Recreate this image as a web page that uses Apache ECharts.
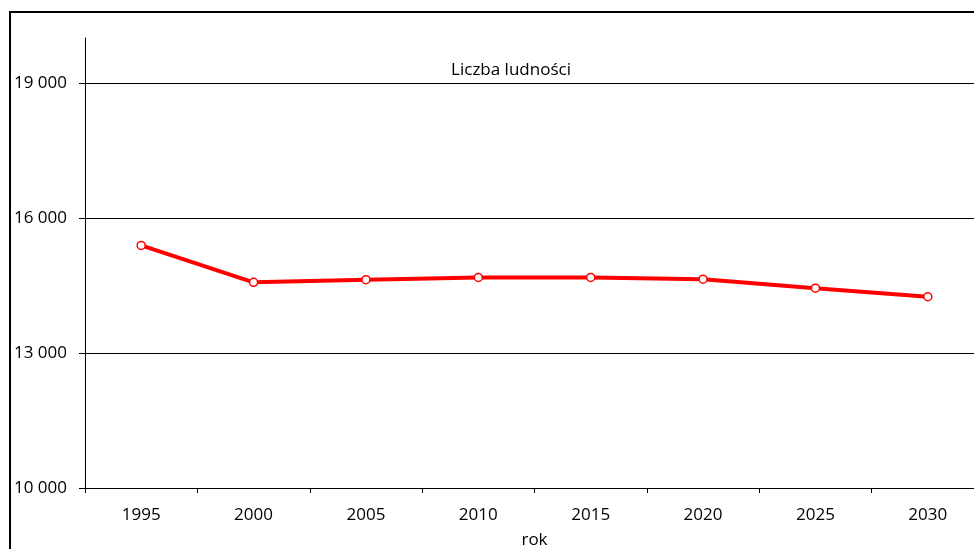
<!DOCTYPE html>
<html>
<head>
<meta charset="utf-8">
<script src="https://cdn.jsdelivr.net/npm/echarts@6/dist/echarts.min.js"></script>
<style>
  html, body { margin: 0; padding: 0; background: #fff; }
  #chart { width: 974px; height: 549px; }
</style>
</head>
<body>
<div id="chart"></div>
<script>
// Population by year, with projections to 2030
const years = ['1995', '2000', '2005', '2010', '2015', '2020', '2025', '2030'];
const population = [15390, 14570, 14630, 14680, 14680, 14640, 14440, 14250];
const chartTitle = 'Liczba ludności';
const xAxisName = 'rok';

const FONT = '"Open Sans", "Noto Sans", sans-serif';
const FONT_SIZE = 17;

const chart = echarts.init(document.getElementById('chart'), null, { renderer: 'canvas' });

chart.setOption({
  backgroundColor: '#ffffff',
  animation: false,
  graphic: [
    {
      // outer chart frame
      type: 'rect',
      shape: { x: 10, y: 12, width: 1000, height: 600 },
      style: { fill: 'none', stroke: '#000', lineWidth: 2 },
      silent: true,
      z: 0
    },
    {
      type: 'text',
      x: 511,
      y: 70,
      style: {
        text: chartTitle, fontFamily: FONT, fontSize: FONT_SIZE, fill: '#000',
        align: 'center', verticalAlign: 'middle'
      },
      z: 10
    }
  ],
  grid: { left: 85, top: 38, right: -10, bottom: 61, outerBoundsMode: 'none', containLabel: false },
  xAxis: {
    type: 'category',
    data: years,
    boundaryGap: true,
    name: xAxisName,
    nameLocation: 'middle',
    nameGap: 44,
    nameTextStyle: { fontFamily: FONT, fontSize: FONT_SIZE, color: '#000' },
    axisLine: { show: true, lineStyle: { color: '#000', width: 1 } },
    axisTick: { show: true, alignWithLabel: false, length: 5, lineStyle: { color: '#000' } },
    axisLabel: { fontFamily: FONT, fontSize: FONT_SIZE, color: '#000', margin: 19 },
    splitLine: { show: false }
  },
  yAxis: {
    type: 'value',
    min: 10000,
    max: 20000,
    interval: 3000,
    axisLine: { show: true, lineStyle: { color: '#000', width: 1 } },
    axisTick: { show: true, length: 6, lineStyle: { color: '#000' } },
    axisLabel: {
      fontFamily: FONT, fontSize: FONT_SIZE, color: '#000', margin: 18,
      showMaxLabel: false,
      formatter: v => String(v).replace(/\B(?=(\d{3})+(?!\d))/g, ' ')
    },
    splitLine: { show: true, showMaxLine: false, lineStyle: { color: '#000', width: 1 } }
  },
  series: [{
    type: 'line',
    data: population,
    lineStyle: { color: '#ff0000', width: 4 },
    itemStyle: { color: '#ffffff', borderColor: '#ff0000', borderWidth: 1.5 },
    symbol: 'circle',
    symbolSize: 8,
    showAllSymbol: true,
    z: 5
  }]
});
</script>
</body>
</html>
